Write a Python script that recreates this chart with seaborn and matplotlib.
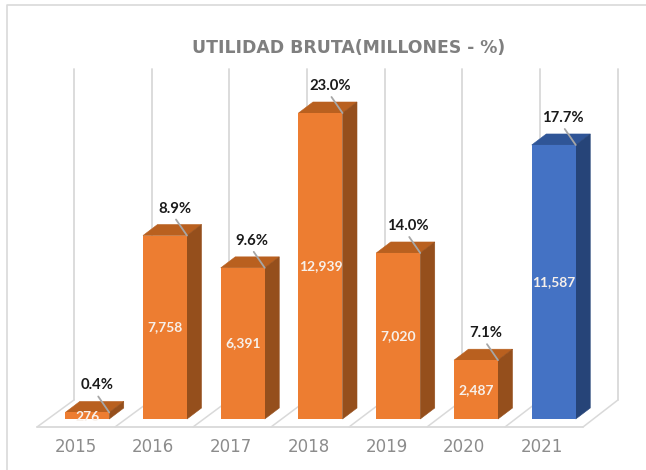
import matplotlib
matplotlib.use('Agg')
import matplotlib.pyplot as plt
from matplotlib.lines import Line2D
from matplotlib.patches import Polygon
import numpy as np
import pandas as pd
import seaborn as sns

years = ['2015', '2016', '2017', '2018', '2019', '2020', '2021']
utilidad = [276, 7758, 6391, 12939, 7020, 2487, 11587]
margen = ['0.4%', '8.9%', '9.6%', '23.0%', '14.0%', '7.1%', '17.7%']
colores = ['#ED7D31'] * 6 + ['#4472C4']
techos = ['#B9601F'] * 6 + ['#2F5597']
lados = ['#954F1C'] * 6 + ['#264478']

W, H = 646, 470
paso = 77.75       # px between bars
px_valor = 306 / 12939
x0_px = 87.25      # center of first bar
y0_px = 419        # bar baseline
piso_px = 427      # front edge of the floor

sns.set_theme(style='white')
plt.rcParams['font.family'] = ['Lato', 'DejaVu Sans']

fig = plt.figure(figsize=(W / 100, H / 100), dpi=100, facecolor='white')
ax = fig.add_axes([0, (H - piso_px) / H, 1, piso_px / H])
ax.set_facecolor('none')

df = pd.DataFrame({'year': years, 'utilidad': utilidad})
sns.barplot(data=df, x='year', y='utilidad', hue='year', palette=colores, saturation=1,
            width=44 / paso, legend=False, ax=ax, zorder=3, edgecolor='none', linewidth=0)

ax.set_xlim(-x0_px / paso, (W - x0_px) / paso)
ax.set_ylim((y0_px - piso_px) / px_valor, y0_px / px_valor)
sns.despine(ax=ax, left=True, bottom=True)
ax.set_xlabel('')
ax.set_ylabel('')
ax.set_yticks([])

# year labels sit under the floor cells, a little left of the bars
ax.set_xticks(np.arange(len(years)) - 0.15, years)
ax.tick_params(axis='x', length=0, pad=8, labelsize=12, labelcolor='#8C8C8C', labelfontfamily='DejaVu Sans')


def px_x(p):
    return (p - x0_px) / paso


def px_y(p):
    return (y0_px - p) / px_valor


# walls and floor
gris = '#D9D9D9'
for k in range(8):
    xb = 74 + 77.7 * k
    xf = 37 + 78 * k
    ax.plot([px_x(xb), px_x(xb)], [px_y(69), px_y(400)], color=gris, lw=1.3, zorder=1, clip_on=False)
    ax.plot([px_x(xf), px_x(xb)], [px_y(427), px_y(400)], color=gris, lw=1.1, zorder=1, clip_on=False)
ax.plot([px_x(37), px_x(583)], [px_y(426.5), px_y(426.5)], color=gris, lw=1.3, zorder=1, clip_on=False)

# 3d look: top and side faces from each bar patch
dx = 14.5 / paso
dy = 11 / px_valor
for i, bar in enumerate(ax.patches[:len(years)]):
    x, w, h = bar.get_x(), bar.get_width(), bar.get_height()
    ax.add_patch(Polygon([(x, h), (x + w, h), (x + w + dx, h + dy), (x + dx, h + dy)],
                         facecolor=techos[i], edgecolor=techos[i], lw=0.4, zorder=2.9))
    ax.add_patch(Polygon([(x + w, 0), (x + w + dx, dy), (x + w + dx, h + dy), (x + w, h)],
                         facecolor=lados[i], edgecolor=lados[i], lw=0.4, zorder=2.9))
    # leader line from the margin label to the bar
    ax.plot([x + w - 11 / paso, x + w], [h + 16 / px_valor, h], color='#A6A6A6', lw=1.3, zorder=4)
    ax.text(x + w - 12.5 / paso, h + 27 / px_valor, margen[i], ha='center', va='center',
            fontsize=10.7, fontweight='bold', color='#1A1A1A', zorder=5)
    yt = h / 2 if h > 1000 else 92
    ax.text(x + w / 2, yt, f'{utilidad[i]:,}', ha='center', va='center',
            fontsize=10, fontweight='bold', color='#F7F0EA', zorder=5)

fig.text(349 / W, 1 - 48 / H, 'UTILIDAD BRUTA(MILLONES - %)', ha='center', va='center',
         fontsize=12.4, fontweight='bold', color='#7F7F7F', family='DejaVu Sans')

# only the top and left edges of the chart frame are visible
fig.add_artist(Line2D([6.5 / W, 6.5 / W, 1], [0, 1 - 5 / H, 1 - 5 / H], color='#D9D9D9', lw=1.2))

fig.savefig('out.png', dpi=100)
plt.close(fig)
